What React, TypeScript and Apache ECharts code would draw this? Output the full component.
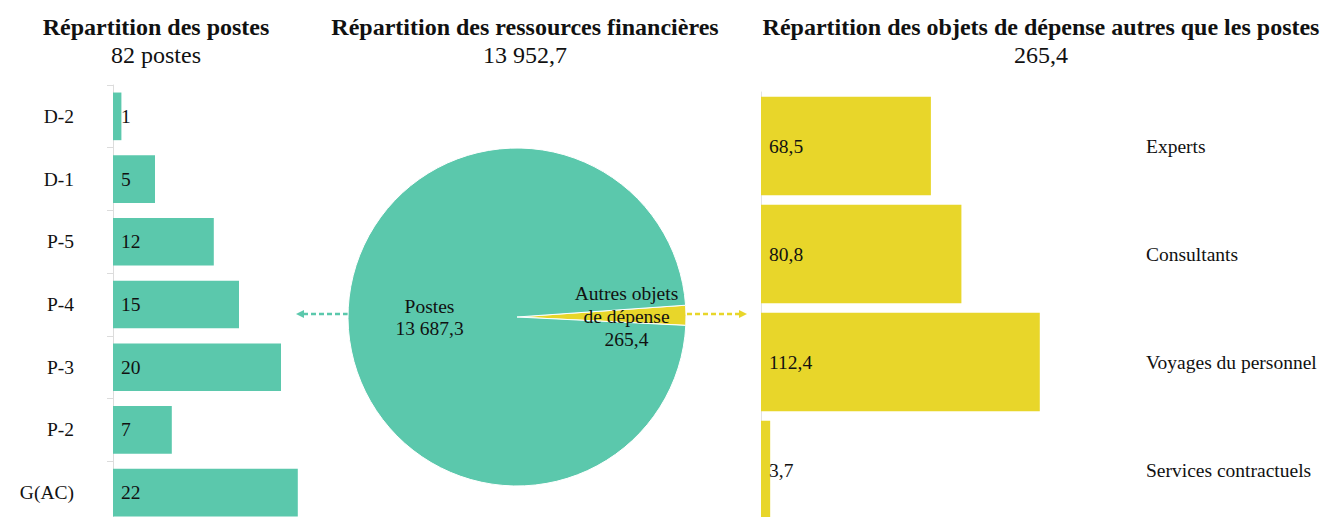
import React, { useEffect, useRef } from "react";
import * as echarts from "echarts";

const posteCategories = ["D-2", "D-1", "P-5", "P-4", "P-3", "P-2", "G(AC)"];
const posteValues = [1, 5, 12, 15, 20, 7, 22];

const ressourceNames = ["Autres objets\nde dépense", "Postes"];
const ressourceValues = [265.4, 13687.3];

const depenseCategories = ["Experts", "Consultants", "Voyages du personnel", "Services contractuels"];
const depenseValues = [68.5, 80.8, 112.4, 3.7];

const GREEN = "#5bc8ac";
const YELLOW = "#e8d62a";
const FONT = "'Liberation Serif', 'Times New Roman', serif";
const FS = 19.5;

function frNum(v: number, decimals = 1): string {
  const s = v.toFixed(decimals);
  const [int, dec] = s.split(".");
  const intF = int.replace(/\B(?=(\d{3})+(?!\d))/g, " ");
  return dec ? `${intF},${dec}` : intF;
}

const sum = (a: number[]) => a.reduce((x, y) => x + y, 0);

export default function App() {
  const ref = useRef<HTMLDivElement>(null);
  useEffect(() => {
    document.body.style.margin = "0";
    if (!ref.current) return;
    const chart = echarts.init(ref.current, undefined, { renderer: "svg" });
    const titleStyle = { fontFamily: FONT, fontSize: 24, fontWeight: "bold" as const, color: "#111" };
    const subStyle = { fontFamily: FONT, fontSize: 24, color: "#111" };
    const option: any = {
      animation: false,
      backgroundColor: "#fff",
      textStyle: { fontFamily: FONT },
      title: [
        {
          text: "Répartition des postes",
          subtext: `${sum(posteValues)} postes`,
          left: 151, top: 10, textAlign: "center", itemGap: 4,
          textStyle: titleStyle, subtextStyle: subStyle,
        },
        {
          text: "Répartition des ressources financières",
          subtext: frNum(sum(ressourceValues)),
          left: 520, top: 10, textAlign: "center", itemGap: 4,
          textStyle: titleStyle, subtextStyle: subStyle,
        },
        {
          text: "Répartition des objets de dépense autres que les postes",
          subtext: frNum(sum(depenseValues)),
          left: 1036, top: 10, textAlign: "center", itemGap: 4,
          textStyle: titleStyle, subtextStyle: subStyle,
        },
      ],
      grid: [
        { left: 113, top: 85, width: 210, height: 439, containLabel: false, outerBoundsMode: "none" },
        { left: 761, top: 92, width: 377, height: 432, containLabel: false, outerBoundsMode: "none" },
      ],
      xAxis: [
        { type: "value", gridIndex: 0, min: 0, max: 25, show: false },
        { type: "value", gridIndex: 1, min: 0, max: 152, show: false },
      ],
      yAxis: [
        {
          type: "category", gridIndex: 0, data: posteCategories, inverse: true,
          axisLine: { show: true, lineStyle: { color: "#dcdcdc", width: 1 } },
          axisTick: { show: true, length: 6, lineStyle: { color: "#dcdcdc" } },
          axisLabel: { margin: 39, fontSize: FS, color: "#111", fontFamily: FONT },
          splitLine: { show: false },
        },
        {
          type: "category", gridIndex: 1, data: depenseCategories, inverse: true,
          axisLine: { show: true, lineStyle: { color: "#e2e2e2", width: 1 } },
          axisTick: { show: false },
          axisLabel: { show: false },
          splitLine: { show: false },
        },
        {
          type: "category", gridIndex: 1, data: depenseCategories, inverse: true, position: "right",
          axisLine: { show: false }, axisTick: { show: false },
          axisLabel: { margin: 8, fontSize: FS, color: "#111", fontFamily: FONT, align: "left" },
          splitLine: { show: false },
        },
      ],
      series: [
        {
          type: "bar", xAxisIndex: 0, yAxisIndex: 0, data: posteValues,
          barCategoryGap: "24%",
          itemStyle: { color: GREEN },
          label: {
            show: true, position: "insideLeft", distance: 8,
            fontSize: FS, color: "#111", fontFamily: FONT,
          },
        },
        {
          type: "bar", xAxisIndex: 1, yAxisIndex: 1, data: depenseValues,
          barCategoryGap: "9%",
          itemStyle: { color: YELLOW },
          label: {
            show: true, position: "insideLeft", distance: 8,
            fontSize: FS, color: "#111", fontFamily: FONT,
            formatter: (p: any) => frNum(p.value),
          },
        },
        {
          type: "pie",
          center: [517, 317],
          radius: 169,
          startAngle: 4,
          clockwise: true,
          itemStyle: { borderColor: "#fff", borderWidth: 1 },
          label: {
            show: true, position: "inside", fontSize: FS, lineHeight: 23,
            color: "#111", fontFamily: FONT,
            formatter: (p: any) => `${p.name}\n${frNum(p.value)}`,
          },
          labelLine: { show: false },
          emphasis: { disabled: true },
          data: [
            {
              name: ressourceNames[0], value: ressourceValues[0],
              itemStyle: { color: YELLOW },
              label: { padding: [0, 0, 0, 44] },
            },
            { name: ressourceNames[1], value: ressourceValues[1], itemStyle: { color: GREEN }, label: { lineHeight: 22 } },
          ],
        },
      ],
      graphic: [
        {
          type: "line", shape: { x1: 348, y1: 314, x2: 302, y2: 314 },
          style: { stroke: GREEN, lineWidth: 2.5, lineDash: [5, 3] },
        },
        {
          type: "polygon", shape: { points: [[296, 314], [304, 310], [304, 318]] },
          style: { fill: GREEN },
        },
        {
          type: "line", shape: { x1: 687, y1: 314, x2: 741, y2: 314 },
          style: { stroke: YELLOW, lineWidth: 2.5, lineDash: [5, 3] },
        },
        {
          type: "polygon", shape: { points: [[747, 314], [739, 310], [739, 318]] },
          style: { fill: YELLOW },
        },
      ],
    };
    chart.setOption(option);
    return () => chart.dispose();
  }, []);
  return <div ref={ref} style={{ width: 1323, height: 517 }} />;
}
